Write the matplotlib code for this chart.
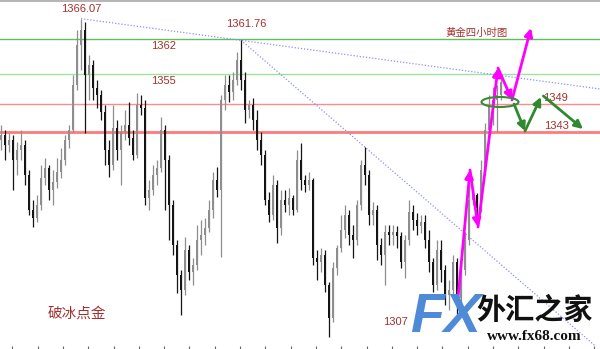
import matplotlib
matplotlib.use("Agg")
import matplotlib.pyplot as plt
from matplotlib.patches import Ellipse
import numpy as np

plt.rcParams["font.family"] = ["Liberation Sans", "Noto Sans CJK SC"]

# 4h gold candles, prices
opens = [
    1341.8, 1342.8, 1340.8, 1341.8, 1337.8, 1339.8, 1340.8, 1334.8, 1327.8, 1326.2,
    1328.8, 1334.2, 1336.2, 1331.8, 1333.4, 1335.4, 1337.8, 1341.8, 1343.8, 1352.8,
    1360.8, 1363.8, 1354.8, 1356.8, 1352.2, 1350.8, 1347.4, 1339.8, 1336.8, 1344.2,
    1339.8, 1343.4, 1344.8, 1342.2, 1338.8, 1348.8, 1348.2, 1330.2, 1331.8, 1334.8,
    1336.2, 1343.8, 1337.8, 1328.8, 1320.8, 1314.8, 1311.8, 1319.8, 1315.4, 1316.8,
    1321.8, 1322.8, 1324.2, 1327.8, 1333.8, 1331.8, 1349.8, 1352.8, 1351.4, 1353.8,
    1357.8, 1353.8, 1347.8, 1348.8, 1345.8, 1341.8, 1338.8, 1329.8, 1326.8, 1332.8,
    1324.2, 1329.8, 1328.8, 1330.2, 1327.8, 1337.8, 1333.8, 1332.8, 1333.8, 1318.2,
    1317.4, 1318.8, 1312.8, 1306.2, 1316.2, 1320.2, 1323.8, 1326.8, 1322.8, 1321.8,
    1328.8, 1336.8, 1334.8, 1326.8, 1327.8, 1320.8, 1318.8, 1323.4, 1322.8, 1323.4,
    1322.6, 1317.4, 1321.8, 1327.4, 1325.8, 1324.6, 1325.4, 1321.8, 1317.4, 1312.8,
    1319.8, 1315.8, 1310.8, 1311.8, 1317.4, 1310.2, 1315.8, 1321.8, 1329.8, 1330.8,
    1328.2, 1335.8, 1343.8, 1348.8, 1349.8, 1350.8,
]
closes = [
    1342.8, 1340.8, 1341.8, 1337.8, 1339.8, 1340.8, 1334.8, 1327.8, 1326.2, 1328.8,
    1334.2, 1336.2, 1331.8, 1333.4, 1335.4, 1337.8, 1341.8, 1343.8, 1352.8, 1360.8,
    1363.8, 1354.8, 1356.8, 1352.2, 1350.8, 1347.4, 1339.8, 1336.8, 1344.2, 1339.8,
    1343.4, 1344.8, 1342.2, 1338.8, 1348.8, 1348.2, 1330.2, 1331.8, 1334.8, 1336.2,
    1343.8, 1337.8, 1328.8, 1320.8, 1314.8, 1311.8, 1319.8, 1315.4, 1316.8, 1321.8,
    1322.8, 1324.2, 1327.8, 1333.8, 1331.8, 1349.8, 1352.8, 1351.4, 1353.8, 1357.8,
    1353.8, 1347.8, 1348.8, 1345.8, 1341.8, 1338.8, 1329.8, 1326.8, 1332.8, 1324.2,
    1329.8, 1328.8, 1330.2, 1327.8, 1337.8, 1333.8, 1332.8, 1333.8, 1318.2, 1317.4,
    1318.8, 1312.8, 1306.2, 1316.2, 1320.2, 1323.8, 1326.8, 1322.8, 1321.8, 1328.8,
    1336.8, 1334.8, 1326.8, 1327.8, 1320.8, 1318.8, 1323.4, 1322.8, 1323.4, 1322.6,
    1317.4, 1321.8, 1327.4, 1325.8, 1324.6, 1325.4, 1321.8, 1317.4, 1312.8, 1319.8,
    1315.8, 1310.8, 1311.8, 1317.4, 1310.2, 1315.8, 1321.8, 1329.8, 1330.8, 1328.2,
    1335.8, 1343.8, 1348.8, 1349.8, 1350.8, 1353.4,
]
highs = [
    1344.8, 1343.8, 1343.2, 1342.8, 1341.4, 1343.8, 1341.8, 1335.8, 1329.8, 1330.8,
    1336.8, 1338.2, 1336.8, 1335.8, 1338.2, 1340.2, 1342.8, 1344.8, 1354.8, 1363.8,
    1366.07, 1365.4, 1358.8, 1357.8, 1353.8, 1351.8, 1348.8, 1341.8, 1348.8, 1345.8,
    1344.8, 1347.8, 1349.4, 1343.8, 1351.2, 1350.8, 1349.8, 1333.8, 1336.8, 1337.8,
    1346.4, 1344.8, 1338.8, 1329.8, 1321.8, 1315.8, 1322.4, 1320.8, 1318.2, 1324.8,
    1325.8, 1326.2, 1329.8, 1335.4, 1336.4, 1350.8, 1354.8, 1354.8, 1355.4, 1359.4,
    1361.76, 1355.4, 1349.8, 1350.2, 1347.8, 1343.4, 1339.8, 1331.4, 1334.8, 1333.8,
    1331.8, 1331.8, 1332.2, 1330.8, 1339.8, 1341.2, 1334.8, 1335.4, 1334.2, 1319.8,
    1320.2, 1319.8, 1313.4, 1317.4, 1320.8, 1326.8, 1328.8, 1327.8, 1324.8, 1329.8,
    1337.8, 1340.4, 1335.8, 1329.4, 1328.8, 1322.2, 1324.8, 1324.8, 1324.8, 1324.6,
    1323.4, 1322.8, 1329.8, 1328.8, 1327.2, 1326.8, 1326.8, 1323.8, 1318.2, 1321.8,
    1321.8, 1316.8, 1313.8, 1318.8, 1318.2, 1317.4, 1323.4, 1332.8, 1332.2, 1331.2,
    1337.8, 1345.2, 1350.8, 1352.4, 1352.8, 1355.0,
]
lows = [
    1339.8, 1337.8, 1339.4, 1331.8, 1334.8, 1337.8, 1332.8, 1326.8, 1324.4, 1325.4,
    1327.8, 1332.8, 1329.8, 1328.8, 1332.2, 1334.2, 1336.8, 1340.2, 1343.4, 1351.8,
    1355.8, 1343.2, 1349.8, 1349.8, 1348.2, 1345.8, 1336.8, 1334.4, 1335.8, 1337.8,
    1332.8, 1341.8, 1340.8, 1337.8, 1338.2, 1346.8, 1328.8, 1327.8, 1330.8, 1332.8,
    1335.4, 1327.8, 1321.8, 1318.8, 1311.2, 1306.8, 1310.8, 1313.8, 1312.8, 1315.8,
    1318.8, 1320.8, 1323.4, 1326.2, 1330.4, 1318.4, 1347.8, 1349.4, 1349.8, 1352.8,
    1351.8, 1345.2, 1346.2, 1343.8, 1339.8, 1336.8, 1328.8, 1325.4, 1325.8, 1321.2,
    1322.8, 1327.4, 1326.8, 1326.8, 1327.4, 1331.8, 1331.4, 1331.8, 1316.8, 1313.8,
    1315.4, 1311.4, 1302.4, 1305.4, 1314.8, 1319.4, 1322.2, 1320.8, 1318.2, 1320.8,
    1327.8, 1332.8, 1324.8, 1324.8, 1317.8, 1316.8, 1312.8, 1320.8, 1320.8, 1320.2,
    1316.2, 1314.2, 1320.8, 1323.8, 1322.8, 1323.2, 1320.2, 1315.4, 1311.4, 1311.8,
    1313.4, 1308.8, 1307.8, 1310.6, 1307.0, 1308.8, 1314.8, 1320.8, 1328.8, 1326.8,
    1327.4, 1334.8, 1342.8, 1344.8, 1343.4, 1349.8,
]

levels = [1362, 1355, 1349, 1343.4]
level_colors = ["#5cc05c", "#9be69b", "#ff8a8a", "#ff7a7a"]
level_widths = [1.0, 1.0, 1.0, 2.0]

peak1 = (20, 1366.07)
peak2 = (60, 1361.76)
low_label = "1307"

# projected path (bar index, price)
magenta_path = [(114.25, 1310.2), (117.25, 1335.8), (119.25, 1324.4),
                (124.25, 1356.2), (127.75, 1349.8), (132.5, 1364.2)]
green_path = [(128.25, 1349.0), (131.0, 1343.6), (135.0, 1350.4)]
green_last = [(135.6, 1350.6), (145.5, 1344.0)]

TEXT_RED = "#a3302e"

fig = plt.figure(figsize=(6.0, 3.49), dpi=100, facecolor="white")
ax = fig.add_axes([0, 3 / 349, 1, 345 / 349])

o = np.array(opens)
c = np.array(closes)
h = np.array(highs)
l = np.array(lows)
x = np.arange(len(o))
up = c >= o
cols = np.where(up, "#8e8e8e", "#151515")

ax.vlines(x, l, h, colors=cols, linewidth=0.9, zorder=3)
ax.bar(x, np.maximum(np.abs(c - o), 0.3), bottom=np.minimum(o, c), width=0.6,
       color=cols, linewidth=0, zorder=3)

for lv, lc, lw in zip(levels, level_colors, level_widths):
    ax.axhline(lv, color=lc, linewidth=lw, zorder=2)

# trend lines
ax.plot([peak1[0], 149.75], [peak1[1], 1352.0], color="#8f8ff5",
        linestyle=(0, (1, 1.5)), linewidth=0.9, zorder=2)
ax.plot([peak2[0], 149.75], [peak2[1], 1299.8], color="#8f8ff5",
        linestyle=(0, (1, 1.5)), linewidth=0.9, zorder=2)

arrow_kw = dict(arrowstyle="-|>", lw=2.0, mutation_scale=12, shrinkA=0, shrinkB=0)
for a, b in zip(magenta_path[:-1], magenta_path[1:]):
    ax.annotate("", xy=b, xytext=a, arrowprops=dict(color="#ff00ff", **arrow_kw), zorder=5)
for a, b in zip(green_path[:-1], green_path[1:]):
    ax.annotate("", xy=b, xytext=a, arrowprops=dict(color="#2f8a2f", **arrow_kw), zorder=5)
ax.annotate("", xy=green_last[1], xytext=green_last[0],
            arrowprops=dict(color="#2f8a2f", **arrow_kw), zorder=5)

ax.add_patch(Ellipse((124.75, 1349.4), 9.25, 2.0, fill=False,
                     edgecolor="#3a8a3a", linewidth=1.5, zorder=6))

ax.text(peak1[0], 1368.0, f"{peak1[1]:.2f}", color=TEXT_RED, fontsize=8,
        ha="center", va="center")
ax.text(peak2[0] + 1.25, 1365.0, f"{peak2[1]:.2f}", color=TEXT_RED, fontsize=8,
        ha="center", va="center")
ax.text(40.75, 1360.6, "1362", color=TEXT_RED, fontsize=8, ha="center", va="center")
ax.text(40.5, 1353.6, "1355", color=TEXT_RED, fontsize=8, ha="center", va="center")
ax.text(138.5, 1350.2, "1349", color=TEXT_RED, fontsize=8, ha="center", va="center")
ax.text(139.0, 1344.6, "1343", color=TEXT_RED, fontsize=8, ha="center", va="center")
ax.text(98.6, 1305.4, low_label, color=TEXT_RED, fontsize=8, ha="center", va="center")
ax.text(119.0, 1363.2, "黄金四小时图", color=TEXT_RED, fontsize=7.5,
        ha="center", va="center", family=["Noto Sans CJK SC"])
ax.text(19.0, 1307.0, "破冰点金", color=TEXT_RED, fontsize=10.5,
        ha="center", va="center", family=["Noto Sans CJK SC"])

ax.set_xlim(-0.25, 149.75)
ax.set_ylim(1300.6, 1369.6)
ax.set_yticks([])
ax.set_xticks(np.arange(2.83, 150, 6.325))
ax.set_xticklabels([])
ax.tick_params(axis="x", direction="out", length=2.5, width=0.8, color="#666666")
for side in ["left", "right", "bottom"]:
    ax.spines[side].set_visible(False)
ax.spines["top"].set_color("#a8a8a8")
ax.spines["top"].set_linewidth(1.2)

# watermark logo
fig.text(445 / 600, 1 - 318 / 349, "FX", fontsize=40, fontweight="bold",
         fontstyle="italic", color="#4f8ad8", ha="center", va="center", zorder=10,
         family=["Liberation Sans"])
fig.text(535 / 600, 1 - 310 / 349, "外汇之家", fontsize=21, fontweight="bold",
         color="#111111", ha="center", va="center", zorder=10,
         family=["Noto Sans CJK SC"])
fig.text(534 / 600, 1 - 336 / 349, "www.fx68.com", fontsize=11, fontweight="bold",
         color="#111111", ha="center", va="center", zorder=10,
         family=["Liberation Serif"])

fig.savefig("out.png", dpi=100, facecolor="white")
